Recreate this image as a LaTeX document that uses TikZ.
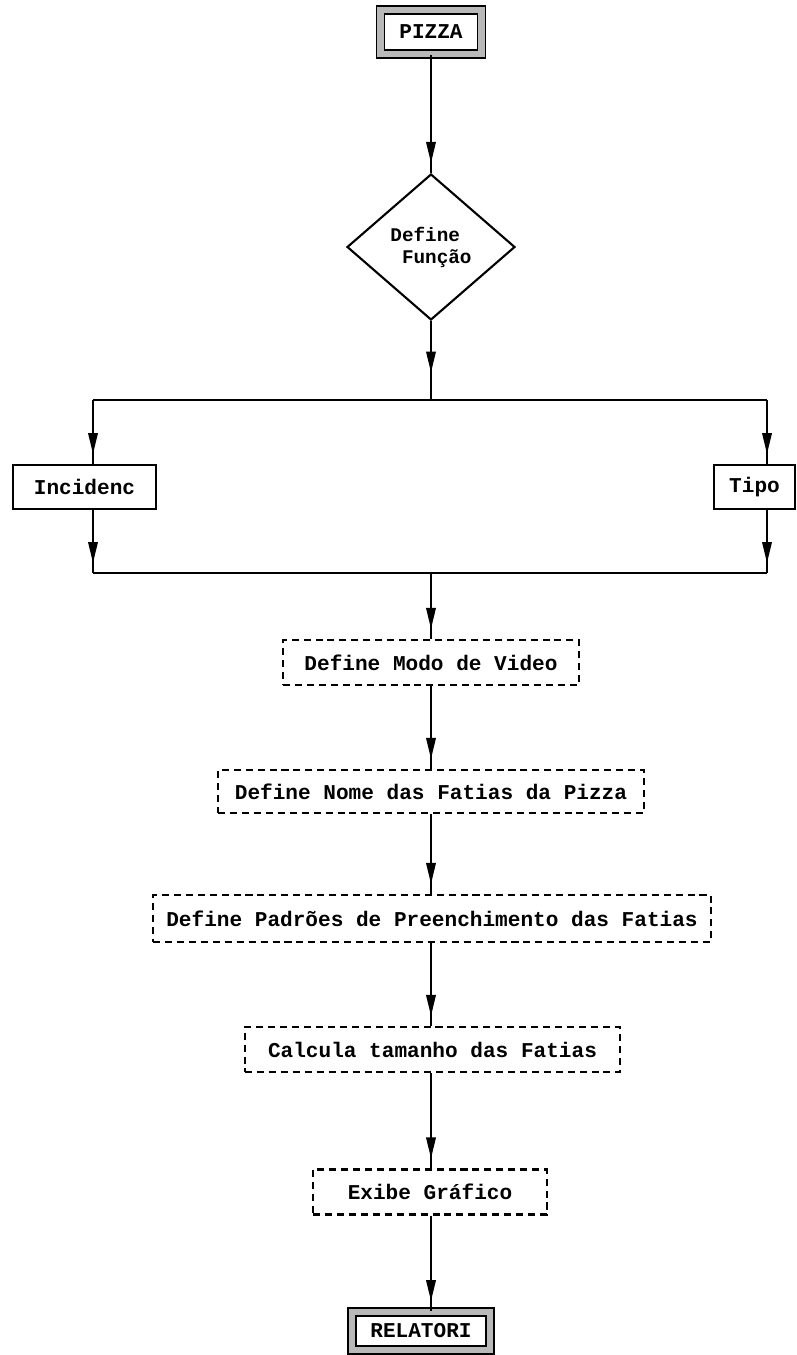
\documentclass[tikz,border=0pt]{standalone}
\usepackage{fontspec}
\setmonofont{Liberation Mono}
\usetikzlibrary{shapes.geometric,arrows.meta,decorations.markings,calc}

\tikzset{
  txt/.style={font=\ttfamily\bfseries\fontsize{12}{14}\selectfont},
  wire/.style={line width=1.1pt},
  conn/.style={wire, postaction={decorate},
    decoration={markings, mark=at position -#1 with {\arrow{Triangle[length=0.42cm,width=0.19cm]}}}},
  conn/.default=0.2cm,
  solidbox/.style={txt, draw, line width=1.1pt, inner sep=0pt, fill=white},
  dashbox/.style={txt, draw, line width=1.2pt, dash pattern=on 4pt off 2.8pt, inner sep=0pt},
  terminal/.style={txt, draw=black, line width=1pt, double=gray!55, double distance=3.5pt, inner sep=0pt},
  decision/.style={diamond, draw, line width=1.2pt, inner sep=0pt, aspect=1.15,
    font=\ttfamily\bfseries\fontsize{11}{12.5}\selectfont, align=left}
}

\begin{document}
\begin{tikzpicture}[x=0.02cm,y=-0.02cm]
  \useasboundingbox (0,0) rectangle (796,1355);

  % central flow axis
  \coordinate (axis) at (431,0);

  % start and decision
  \node[terminal, minimum width=2.02cm, minimum height=0.88cm] (pizza) at (431,32) {PIZZA};
  \node[decision, minimum width=3.36cm, minimum height=2.92cm] (dec) at (431,247)
       {Define\\\hphantom{D}Função};

  % branch rails
  \coordinate (jTL) at (93,400);
  \coordinate (jTR) at (767,400);
  \coordinate (jTC) at (431,400);
  \coordinate (jBL) at (93,573);
  \coordinate (jBR) at (767,573);
  \coordinate (jBC) at (431,573);

  \node[solidbox, minimum width=2.86cm, minimum height=0.88cm] (incid) at (84.5,487) {Incidenc};
  \node[solidbox, minimum width=1.62cm, minimum height=0.88cm] (tipo) at (754.5,487) {Tipo};

  % processing steps
  \node[dashbox, minimum width=5.92cm, minimum height=0.90cm] (modo) at (431,662.5) {Define Modo de Video};
  \node[dashbox, minimum width=8.52cm, minimum height=0.86cm] (nome) at (431,791.5) {Define Nome das Fatias da Pizza};
  \node[dashbox, minimum width=11.16cm, minimum height=0.94cm] (padroes) at (432,918.5) {Define Padrões de Preenchimento das Fatias};
  \node[dashbox, minimum width=7.5cm, minimum height=0.90cm] (calcula) at (432.5,1049.5) {Calcula tamanho das Fatias};
  \node[dashbox, minimum width=4.68cm, minimum height=0.90cm] (exibe) at (430,1192) {Exibe Gráfico};

  % end
  \node[terminal, minimum width=2.76cm, minimum height=0.76cm] (relatori) at (421,1331) {RELATORI};

  % connectors
  \draw[conn] (axis |- pizza.south) -- (axis |- dec.north);
  \draw[conn=0.55cm] (dec.south) -- (jTC);
  \draw[wire] (jTL) -- (jTR);
  \draw[conn] (jTL) -- (jTL |- incid.north);
  \draw[conn] (jTR) -- (jTR |- tipo.north);
  \draw[conn] (jTL |- incid.south) -- (jBL);
  \draw[conn] (jTR |- tipo.south) -- (jBR);
  \draw[wire] (jBL) -- (jBR);
  \draw[conn] (jBC) -- (axis |- modo.north);
  \draw[conn] (axis |- modo.south) -- (axis |- nome.north);
  \draw[conn] (axis |- nome.south) -- (axis |- padroes.north);
  \draw[conn] (axis |- padroes.south) -- (axis |- calcula.north);
  \draw[conn] (axis |- calcula.south) -- (axis |- exibe.north);
  \draw[conn] (axis |- exibe.south) -- (axis |- relatori.north);
\end{tikzpicture}
\end{document}
